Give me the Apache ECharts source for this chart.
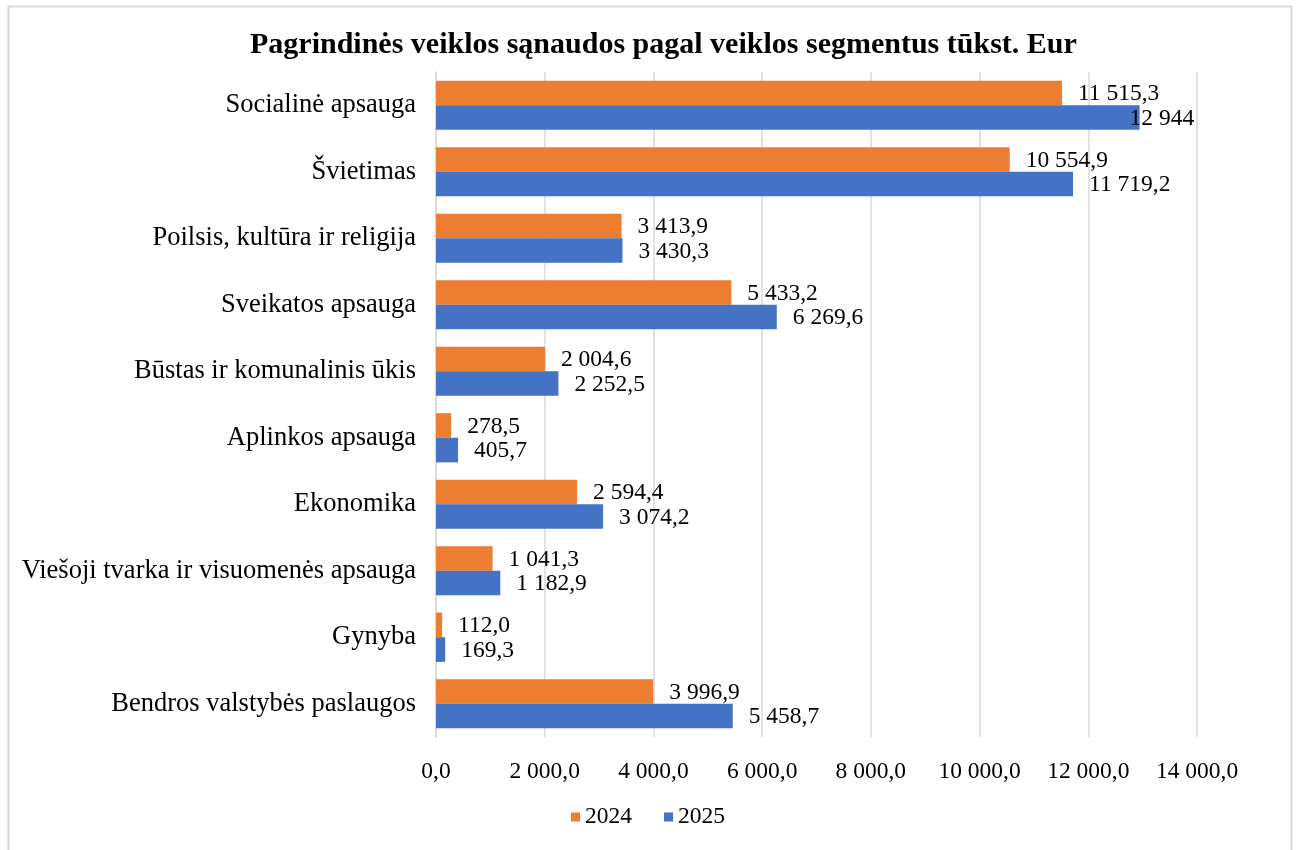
<!DOCTYPE html>
<html>
<head>
<meta charset="utf-8">
<script src="https://cdn.jsdelivr.net/npm/echarts@6/dist/echarts.min.js"></script>
<style>
  html, body { margin: 0; padding: 0; background: #fff; }
  #chart { width: 1296px; height: 850px; }
</style>
</head>
<body>
<div id="chart"></div>
<script>
// categories from bottom to top
const categories = [
  "Bendros valstybės paslaugos",
  "Gynyba",
  "Viešoji tvarka ir visuomenės apsauga",
  "Ekonomika",
  "Aplinkos apsauga",
  "Būstas ir komunalinis ūkis",
  "Sveikatos apsauga",
  "Poilsis, kultūra ir religija",
  "Švietimas",
  "Socialinė apsauga"
];
const values2024 = [3996.9, 112.0, 1041.3, 2594.4, 278.5, 2004.6, 5433.2, 3413.9, 10554.9, 11515.3];
const values2025 = [5458.7, 169.3, 1182.9, 3074.2, 405.7, 2252.5, 6269.6, 3430.3, 11719.2, 12944];
const seriesNames = ["2024", "2025"];
// shown without decimals in the source
const wholeLabels = [12944];

const FONT = "'Liberation Serif', 'Times New Roman', serif";

function fmt(v, dec) {
  let s = v.toFixed(dec);
  let parts = s.split(".");
  let intPart = parts[0].replace(/\B(?=(\d{3})+(?!\d))/g, " ");
  return parts.length > 1 ? intPart + "," + parts[1] : intPart;
}

function labelFmt(p) {
  return wholeLabels.includes(p.value) ? fmt(p.value, 0) : fmt(p.value, 1);
}

// the largest label sits over the end of its bar in the source
function toItems(arr) {
  return arr.map(v => wholeLabels.includes(v) ? { value: v, label: { offset: [-26, 1] } } : v);
}

const chart = echarts.init(document.getElementById("chart"));

const barLabel = {
  show: true, position: "right", distance: 16, offset: [0, 1],
  fontFamily: FONT, fontSize: 23.5, color: "#000",
  formatter: labelFmt
};

const option = {
  animation: false,
  backgroundColor: "#fff",
  title: {
    text: "Pagrindinės veiklos sąnaudos pagal veiklos segmentus tūkst. Eur",
    left: 245,
    top: 25,
    textStyle: { fontFamily: FONT, fontSize: 30, fontWeight: "bold", color: "#000" }
  },
  legend: {
    bottom: 16,
    left: "center",
    itemWidth: 9,
    itemHeight: 9,
    itemGap: 32,
    icon: "rect",
    textStyle: { fontFamily: FONT, fontSize: 23.5, color: "#000" }
  },
  grid: {
    left: 436,
    right: 99,
    top: 72,
    bottom: 113
  },
  xAxis: {
    type: "value",
    min: 0,
    max: 14000,
    interval: 2000,
    axisLine: { show: false },
    axisTick: { show: false },
    splitLine: { lineStyle: { color: "#d9d9d9", width: 1.5 } },
    axisLabel: {
      fontFamily: FONT, fontSize: 23.5, color: "#000", margin: 23,
      formatter: v => fmt(v, 1)
    }
  },
  yAxis: {
    type: "category",
    data: categories,
    axisLine: { show: true, lineStyle: { color: "#d9d9d9", width: 1.5 } },
    axisTick: { show: false },
    axisLabel: { fontFamily: FONT, fontSize: 26.5, color: "#000", margin: 20 }
  },
  series: [
    {
      name: seriesNames[0],
      type: "bar",
      data: toItems(values2024),
      itemStyle: { color: "#ED7D31" },
      barCategoryGap: "26%",
      barGap: "0%",
      label: barLabel
    },
    {
      name: seriesNames[1],
      type: "bar",
      data: toItems(values2025),
      itemStyle: { color: "#4472C4" },
      barCategoryGap: "26%",
      barGap: "0%",
      label: barLabel
    }
  ],
  graphic: [
    {
      type: "rect",
      shape: { x: 8.5, y: 6.5, width: 1283, height: 860 },
      style: { fill: null, stroke: "#d9d9d9", lineWidth: 2 },
      silent: true
    }
  ]
};

chart.setOption(option);
</script>
</body>
</html>
